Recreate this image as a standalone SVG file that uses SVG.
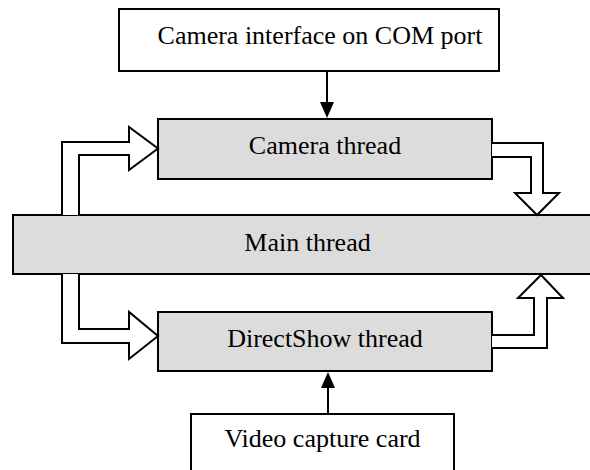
<svg xmlns="http://www.w3.org/2000/svg" width="590" height="470" viewBox="0 0 590 470">
<style>
.box{stroke:#000;stroke-width:2}
.w{fill:#fff}
.g{fill:#dcdcdc}
.t{font-family:"Liberation Serif","Times New Roman",serif;font-size:26px;fill:#000;text-anchor:middle}
.ba{fill:#fff;stroke:#000;stroke-width:2;stroke-linejoin:miter}
.ln{stroke:#000;stroke-width:2;fill:none}
.hd{fill:#000}
</style>
<rect width="590" height="470" fill="#fff"/>
<g id="main">
<rect class="box g" x="13" y="215" width="590" height="59"/>
<text class="t" x="307.5" y="251">Main thread</text>
</g>
<g id="camif">
<rect class="box w" x="119" y="9" width="380" height="62"/>
<text class="t" x="320" y="44">Camera interface on COM port</text>
</g>
<g id="camthread">
<rect class="box g" x="158" y="119" width="334" height="60"/>
<text class="t" x="325" y="154">Camera thread</text>
</g>
<g id="dsthread">
<rect class="box g" x="158" y="312" width="334" height="59"/>
<text class="t" x="325" y="347">DirectShow thread</text>
</g>
<g id="video">
<rect class="box w" x="191" y="414" width="263" height="70"/>
<text class="t" x="322.5" y="447">Video capture card</text>
</g>
<g id="connectors">
<line class="ln" x1="327" y1="71" x2="327" y2="103"/>
<path class="hd" d="M320,102 L334,102 L327,118 Z"/>
<line class="ln" x1="328" y1="414" x2="328" y2="387"/>
<path class="hd" d="M321,388 L335,388 L328,372 Z"/>
<path class="ba" d="M62,215 L62,142 L129,142 L129,127 L158,148.5 L129,170 L129,155 L79,155 L79,215"/>
<path class="ba" d="M492,143 L543,143 L543,193 L559,193 L537,215 L515,193 L531,193 L531,157 L492,157"/>
<path class="ba" d="M62,274 L62,343 L129,343 L129,359 L158,336 L129,312 L129,329 L79,329 L79,274"/>
<path class="ba" d="M492,348 L547,348 L547,298 L563,298 L541,275 L518,298 L534,298 L534,335 L492,335"/>
</g>
</svg>
